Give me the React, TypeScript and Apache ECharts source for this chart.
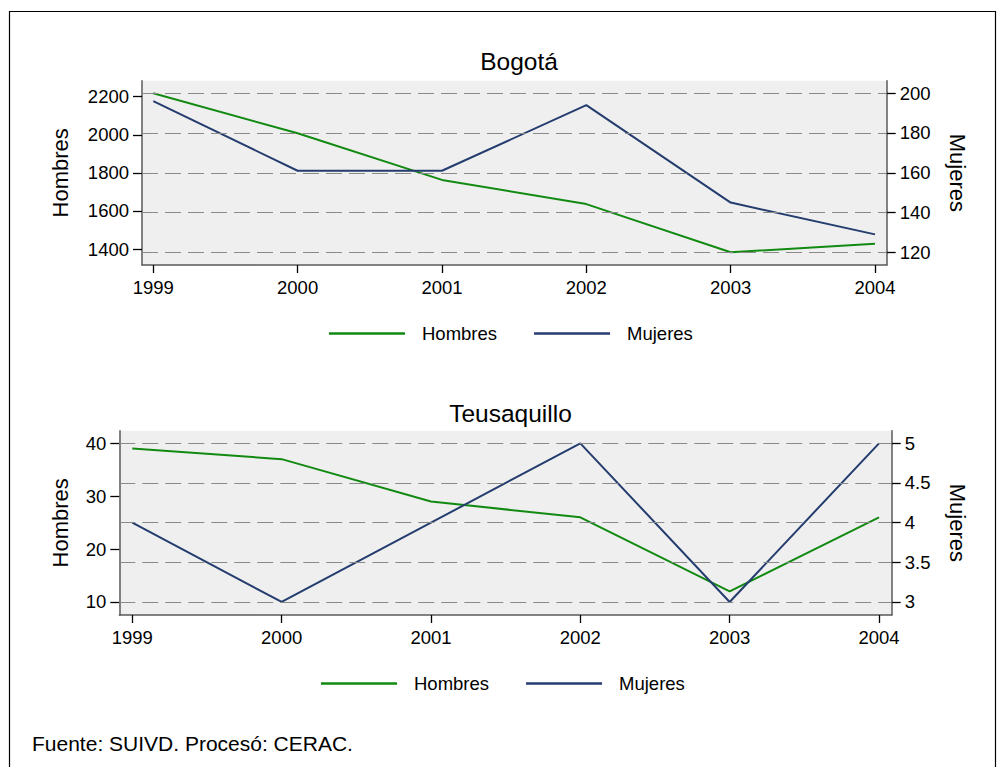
import React, { useEffect, useRef } from "react";
import * as echarts from "echarts";

// ---- Data ----
const years = [1999, 2000, 2001, 2002, 2003, 2004];

const bogotaHombres = [2218, 2008, 1763, 1636, 1383, 1428];
const bogotaMujeres = [196, 161, 161, 194, 145, 129];

const teusHombres = [39, 37, 29, 26, 12, 26];
const teusMujeres = [4, 3, 4, 5, 3, 5];

const bogotaHombresTicks = [1400, 1600, 1800, 2000, 2200];
const bogotaMujeresTicks = [120, 140, 160, 180, 200];
const teusHombresTicks = [10, 20, 30, 40];
const teusMujeresTicks = [3, 3.5, 4, 4.5, 5];

const titles = ["Bogotá", "Teusaquillo"];
const seriesNames = ["Hombres", "Mujeres"];
const footer = "Fuente: SUIVD. Procesó: CERAC.";

// ---- Styles ----
const FONT = "'Liberation Sans', Arial, Helvetica, sans-serif";
const GREEN = "#128a12";
const BLUE = "#243d6e";
const AXIS = "#5a5a5a";

const fmt = (v: number) => String(v);

function xAxisCfg(gridIndex: number, min: number, max: number) {
  return {
    type: "value",
    gridIndex,
    min,
    max,
    axisLine: { show: true, onZero: false, lineStyle: { color: AXIS, width: 1.5 } },
    axisTick: { show: true, length: 8, customValues: years, lineStyle: { color: "#000", width: 1.3 } },
    axisLabel: { customValues: years, formatter: fmt, margin: 13, fontSize: 18.5, color: "#000", fontFamily: FONT },
    splitLine: { show: false },
  };
}

function yAxisCfg(
  gridIndex: number,
  position: "left" | "right",
  min: number,
  max: number,
  ticks: number[],
  name: string,
  nameGap: number
) {
  return {
    type: "value",
    gridIndex,
    position,
    min,
    max,
    name,
    nameLocation: "middle",
    nameGap,
    nameRotate: position === "left" ? 90 : -90,
    nameTextStyle: { fontSize: 22, color: "#000", fontFamily: FONT },
    axisLine: { show: true, onZero: false, lineStyle: { color: AXIS, width: 1.5 } },
    axisTick: { show: true, length: 9, customValues: ticks, lineStyle: { color: "#000", width: 1.3 } },
    axisLabel: { customValues: ticks, formatter: fmt, margin: 13, fontSize: 18.5, color: "#000", fontFamily: FONT },
    splitLine: { show: false },
  };
}

function lineSeries(name: string, xi: number, yi: number, values: number[], color: string) {
  return {
    name,
    type: "line",
    xAxisIndex: xi,
    yAxisIndex: yi,
    data: years.map((y, i) => [y, values[i]]),
    symbol: "none",
    lineStyle: { color, width: 2 },
    itemStyle: { color },
    z: 3,
  };
}

function gridLines(id: string, xi: number, yi: number, ticks: number[]) {
  return {
    name: id,
    type: "line",
    xAxisIndex: xi,
    yAxisIndex: yi,
    data: [],
    z: 1,
    markLine: {
      silent: true,
      symbol: ["none", "none"],
      label: { show: false },
      lineStyle: { color: "#8a8a8a", type: [16, 7], width: 1.2 },
      data: ticks.map((v) => ({ yAxis: v })),
    },
  };
}

function legendCfg(left: number, top: number) {
  return {
    data: seriesNames,
    left,
    top,
    icon: "rect",
    itemWidth: 76,
    itemHeight: 2.5,
    itemGap: 37,
    selectedMode: false,
    textStyle: { fontSize: 18.5, color: "#000", fontFamily: FONT, padding: [0, 0, 0, 12] },
  };
}

export default function App() {
  const ref = useRef<HTMLDivElement>(null);

  useEffect(() => {
    if (!ref.current) return;
    const chart = echarts.init(ref.current, null, { renderer: "svg" });
    const option = {
      animation: false,
      backgroundColor: "#ffffff",
      title: [
        {
          text: titles[0],
          left: 514,
          top: 44,
          textAlign: "center",
          textStyle: { fontSize: 24.5, fontWeight: "normal", color: "#000", fontFamily: FONT },
        },
        {
          text: titles[1],
          left: 505.5,
          top: 396,
          textAlign: "center",
          textStyle: { fontSize: 24.5, fontWeight: "normal", color: "#000", fontFamily: FONT },
        },
      ],
      legend: [legendCfg(324, 319), legendCfg(316, 669)],
      grid: [
        { left: 142, right: 110.3, top: 80.7, bottom: 502, show: true, backgroundColor: "#efefef", borderWidth: 0 },
        { left: 119.3, right: 105.3, top: 430.7, bottom: 152, show: true, backgroundColor: "#efefef", borderWidth: 0 },
      ],
      xAxis: [xAxisCfg(0, 1998.922, 2004.081), xAxisCfg(1, 1998.913, 2004.085)],
      yAxis: [
        yAxisCfg(0, "left", 1316, 2284, bogotaHombresTicks, seriesNames[0], 71),
        yAxisCfg(0, "right", 113.6, 206.3, bogotaMujeresTicks, seriesNames[1], 60),
        yAxisCfg(1, "left", 7.54, 42.38, teusHombresTicks, seriesNames[0], 48),
        yAxisCfg(1, "right", 2.836, 5.159, teusMujeresTicks, seriesNames[1], 55),
      ],
      series: [
        gridLines("grid0", 0, 1, bogotaMujeresTicks),
        gridLines("grid1", 1, 3, teusMujeresTicks),
        lineSeries(seriesNames[0], 0, 0, bogotaHombres, GREEN),
        lineSeries(seriesNames[1], 0, 1, bogotaMujeres, BLUE),
        lineSeries(seriesNames[0], 1, 2, teusHombres, GREEN),
        lineSeries(seriesNames[1], 1, 3, teusMujeres, BLUE),
      ],
      graphic: [
        {
          type: "rect",
          silent: true,
          z: -10,
          shape: { x: 9.5, y: 11.5, width: 986, height: 800 },
          style: { fill: "none", stroke: "#000", lineWidth: 1.2 },
        },
        {
          type: "text",
          left: 32,
          top: 733,
          style: { text: footer, fontSize: 21, fill: "#000", fontFamily: FONT },
        },
      ],
    };
    chart.setOption(option as any);
    return () => chart.dispose();
  }, []);

  return (
    <div
      ref={ref}
      style={{ position: "absolute", left: 0, top: 0, width: 997, height: 767 }}
    />
  );
}
